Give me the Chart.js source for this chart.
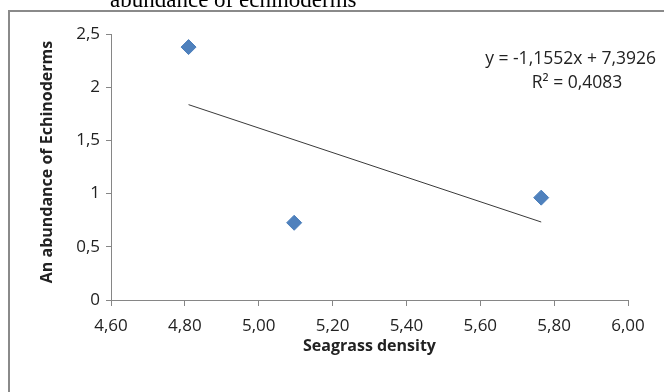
<!DOCTYPE html>
<html>
<head>
<meta charset="utf-8">
<script src="https://cdn.jsdelivr.net/npm/chart.js@4.4.1/dist/chart.umd.min.js"></script>
<style>
    html, body { margin: 0; padding: 0; background: #fff; }
    #wrap { width: 664px; height: 392px; position: relative; }
</style>
</head>
<body>
<div id="wrap"><canvas id="mainChart" width="664" height="392"></canvas></div>
<script>
// seagrass density vs echinoderm abundance
const densityX = [4.81, 5.096, 5.765];
const abundanceY = [2.377, 0.726, 0.962];

// linear trend line end points (y = -1,1552x + 7,3926)
const trendX = [4.81, 5.765];
const trendY = [1.836, 0.733];

const xTicks = [4.6, 4.8, 5.0, 5.2, 5.4, 5.6, 5.8, 6.0];
const yTicks = [0, 0.5, 1, 1.5, 2, 2.5];

const eqLine1 = 'y = -1,1552x + 7,3926';
const eqLine2 = 'R² = 0,4083';
const topCaption = 'abundance of echinoderms';
const yTitle = 'An abundance of Echinoderms';

const axisGray = '#868686';
const tickFont = { family: 'Open Sans', size: 17 };

// page frame, cut caption, y title and the regression label
const decorPlugin = {
    id: 'decor',
    beforeDraw(chart) {
        const ctx = chart.ctx;
        ctx.save();
        ctx.fillStyle = '#fff';
        ctx.fillRect(0, 0, chart.width, chart.height);
        ctx.strokeStyle = '#8a8a8a';
        ctx.lineWidth = 2;
        ctx.strokeRect(9, 11, 700, 500);
        ctx.fillStyle = '#000';
        ctx.font = '23px "Liberation Serif"';
        ctx.textBaseline = 'alphabetic';
        ctx.fillText(topCaption, 110, 7);
        ctx.restore();
    },
    afterDraw(chart) {
        const ctx = chart.ctx;
        ctx.save();
        ctx.fillStyle = '#222';
        ctx.font = '17.5px "Open Sans"';
        ctx.textBaseline = 'middle';
        ctx.textAlign = 'right';
        ctx.fillText(eqLine1, 656, 59);
        ctx.textAlign = 'center';
        ctx.fillText(eqLine2, 577, 83);

        ctx.translate(47, 162);
        ctx.rotate(-Math.PI / 2);
        ctx.font = 'bold 16px "Open Sans"';
        ctx.fillText(yTitle, 0, 0);
        ctx.restore();
    }
};

new Chart(document.getElementById('mainChart').getContext('2d'), {
    type: 'scatter',
    data: {
        datasets: [{
            label: 'Echinoderms',
            data: densityX.map((x, i) => ({ x: x, y: abundanceY[i] })),
            pointStyle: 'rectRot',
            pointRadius: 7.5,
            pointHoverRadius: 7.5,
            backgroundColor: '#4F81BD',
            borderColor: '#4A7EBB',
            borderWidth: 1,
            order: 1
        }, {
            label: 'Trend',
            type: 'line',
            data: trendX.map((x, i) => ({ x: x, y: trendY[i] })),
            borderColor: '#3a3a3a',
            borderWidth: 1,
            pointRadius: 0,
            fill: false,
            order: 2
        }]
    },
    options: {
        responsive: false,
        animation: false,
        layout: { padding: { left: 0, top: 34, right: 36, bottom: 0 } },
        plugins: {
            legend: { display: false },
            tooltip: { enabled: false }
        },
        scales: {
            x: {
                type: 'linear',
                min: 4.6,
                max: 6.0,
                afterBuildTicks: s => { s.ticks = xTicks.map(v => ({ value: v })); },
                afterFit: s => { s.height = 92; },
                ticks: {
                    color: '#222',
                    font: tickFont,
                    padding: 10,
                    callback: v => v.toFixed(2).replace('.', ',')
                },
                grid: { display: true, drawOnChartArea: false, drawTicks: true, tickLength: 6, color: axisGray },
                border: { display: true, color: axisGray, width: 1 },
                title: {
                    display: true,
                    text: 'Seagrass density',
                    color: '#222',
                    font: { family: 'Open Sans', size: 16, weight: 'bold' },
                    padding: { top: 0, bottom: 36 }
                }
            },
            y: {
                type: 'linear',
                min: 0,
                max: 2.5,
                afterBuildTicks: s => { s.ticks = yTicks.map(v => ({ value: v })); },
                afterFit: s => { s.width = 111; },
                ticks: {
                    color: '#222',
                    font: tickFont,
                    padding: 6,
                    callback: v => String(v).replace('.', ',')
                },
                grid: { display: true, drawOnChartArea: false, drawTicks: true, tickLength: 5, color: axisGray },
                border: { display: true, color: axisGray, width: 1 },
                title: { display: false }
            }
        }
    },
    plugins: [decorPlugin]
});
</script>
</body>
</html>
